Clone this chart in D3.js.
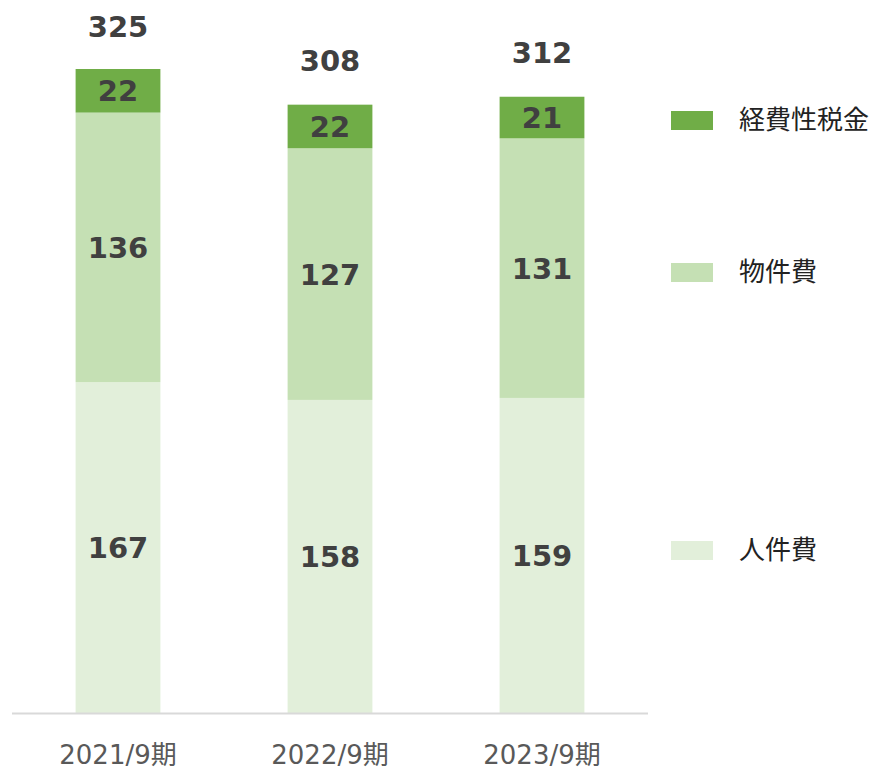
<!DOCTYPE html>
<html>
  <head>
    <style>
    body {
      font-family: "DejaVu Sans", "Noto Sans CJK JP", sans-serif;
      margin: 0;
      background: #fff;
    }
    </style>
  </head>
  <body>
    <script src="https://d3js.org/d3.v7.min.js"></script>
    <script>
    var width = 873, height = 772;

    // data
    var periods = ["2021/9期", "2022/9期", "2023/9期"];
    var personnel = [167, 158, 159];   // 人件費
    var property = [136, 127, 131];    // 物件費
    var taxes = [22, 22, 21];          // 経費性税金
    var totals = [325, 308, 312];
    var seriesNames = ["人件費", "物件費", "経費性税金"];
    var colors = ["#e2efda", "#c5e0b4", "#70ad47"];

    var rows = periods.map(function(p, i) {
      return { period: p, "人件費": personnel[i], "物件費": property[i], "経費性税金": taxes[i], total: totals[i] };
    });

    var svg = d3.select("body").append("svg")
        .attr("width", width)
        .attr("height", height);

    var x = d3.scaleBand()
        .domain(periods)
        .range([12, 648])
        .paddingInner(0.6)
        .paddingOuter(0.3);

    var y = d3.scaleLinear()
        .domain([0, 325])
        .range([713, 69]);

    var stacked = d3.stack().keys(seriesNames)(rows);

    var layers = svg.selectAll(".layer")
        .data(stacked)
      .enter().append("g")
        .attr("class", "layer")
        .attr("fill", function(d, i) { return colors[i]; });

    layers.selectAll("rect")
        .data(function(d) { return d; })
      .enter().append("rect")
        .attr("x", function(d) { return x(d.data.period); })
        .attr("y", function(d) { return y(d[1]); })
        .attr("width", x.bandwidth())
        .attr("height", function(d) { return y(d[0]) - y(d[1]); });

    // segment labels
    layers.selectAll("text")
        .data(function(d) { return d; })
      .enter().append("text")
        .attr("x", function(d) { return x(d.data.period) + x.bandwidth() / 2; })
        .attr("y", function(d) { return (y(d[0]) + y(d[1])) / 2; })
        .attr("dy", "0.36em")
        .attr("text-anchor", "middle")
        .style("font-size", "29px")
        .style("font-weight", "bold")
        .style("fill", "#404040")
        .text(function(d) { return d[1] - d[0]; });

    // totals
    svg.selectAll(".total")
        .data(rows)
      .enter().append("text")
        .attr("class", "total")
        .attr("x", function(d) { return x(d.period) + x.bandwidth() / 2; })
        .attr("y", function(d) { return y(d.total) - 42; })
        .attr("dy", "0.36em")
        .attr("text-anchor", "middle")
        .style("font-size", "29px")
        .style("font-weight", "bold")
        .style("fill", "#404040")
        .text(function(d) { return d.total; });

    // x axis
    var xAxis = svg.append("g")
        .attr("transform", "translate(0,713)")
        .call(d3.axisBottom(x).tickSize(0).tickPadding(33));
    xAxis.select(".domain")
        .attr("d", "M12,0.5H648")
        .style("stroke", "#d9d9d9")
        .style("stroke-width", 2);
    xAxis.selectAll("text")
        .style("font-family", "\"DejaVu Sans\", \"Noto Sans CJK JP\", sans-serif")
        .style("font-size", "26px")
        .style("fill", "#595959");

    // legend
    var legendY = [550, 272, 120];
    var legend = svg.selectAll(".legend")
        .data(seriesNames)
      .enter().append("g")
        .attr("class", "legend")
        .attr("transform", function(d, i) { return "translate(671," + legendY[i] + ")"; });
    legend.append("rect")
        .attr("y", -9)
        .attr("width", 42)
        .attr("height", 19)
        .attr("fill", function(d, i) { return colors[i]; });
    legend.append("text")
        .attr("x", 68)
        .attr("dy", "0.36em")
        .style("font-family", "\"Noto Sans CJK JP\", sans-serif")
        .style("font-size", "26px")
        .style("fill", "#222")
        .text(function(d) { return d; });
    </script>
  </body>
</html>
